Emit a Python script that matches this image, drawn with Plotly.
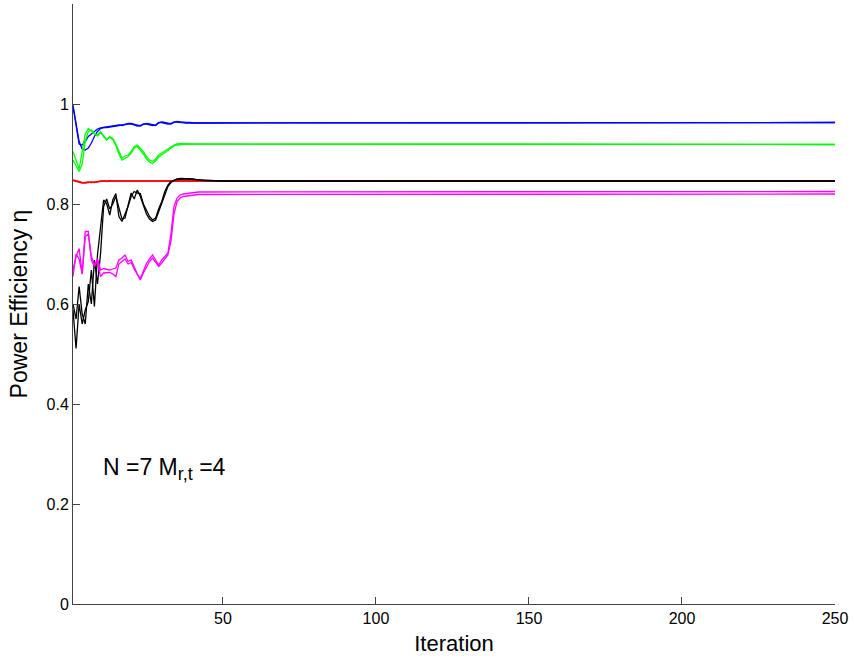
import plotly.graph_objects as go

iterations = list(range(1, 46)) + [50, 60, 80, 250]

blue_1 = [0.995, 0.955, 0.920, 0.918, 0.925, 0.935, 0.940, 0.946, 0.950, 0.952,
          0.953, 0.954, 0.955, 0.955, 0.957, 0.958, 0.957, 0.959, 0.961, 0.961,
          0.959, 0.957, 0.956, 0.959, 0.961, 0.960, 0.958, 0.957, 0.962, 0.964,
          0.963, 0.961, 0.960, 0.963, 0.965, 0.964, 0.963, 0.963, 0.963, 0.962,
          0.962, 0.962, 0.962, 0.962, 0.962, 0.962, 0.963, 0.963, 0.963]
blue_2 = [0.998, 0.960, 0.925, 0.910, 0.908, 0.912, 0.922, 0.935, 0.945, 0.951,
          0.953, 0.953, 0.954, 0.956, 0.957, 0.957, 0.958, 0.960, 0.960, 0.960,
          0.958, 0.956, 0.957, 0.960, 0.960, 0.959, 0.957, 0.958, 0.963, 0.963,
          0.962, 0.960, 0.961, 0.964, 0.964, 0.963, 0.963, 0.962, 0.962, 0.962,
          0.962, 0.962, 0.962, 0.962, 0.962, 0.962, 0.962, 0.963, 0.963]

green_1 = [0.905, 0.885, 0.870, 0.905, 0.940, 0.951, 0.946, 0.940, 0.938, 0.945,
           0.935, 0.928, 0.935, 0.931, 0.920, 0.905, 0.892, 0.896, 0.898, 0.905,
           0.915, 0.918, 0.912, 0.905, 0.895, 0.888, 0.885, 0.890, 0.898, 0.902,
           0.906, 0.911, 0.915, 0.918, 0.920, 0.921, 0.921, 0.920, 0.920, 0.920,
           0.920, 0.920, 0.920, 0.920, 0.920, 0.920, 0.919, 0.919, 0.919]
green_2 = [0.888, 0.875, 0.865, 0.880, 0.925, 0.945, 0.948, 0.942, 0.936, 0.943,
           0.936, 0.930, 0.933, 0.929, 0.917, 0.900, 0.888, 0.892, 0.895, 0.902,
           0.912, 0.915, 0.908, 0.900, 0.890, 0.884, 0.881, 0.886, 0.894, 0.898,
           0.902, 0.907, 0.912, 0.916, 0.918, 0.919, 0.920, 0.920, 0.920, 0.920,
           0.920, 0.920, 0.920, 0.920, 0.920, 0.920, 0.919, 0.919, 0.919]

red_1 = [0.848, 0.846, 0.844, 0.843, 0.842, 0.843, 0.844, 0.843, 0.845, 0.846,
         0.846, 0.845, 0.846, 0.846, 0.846, 0.846, 0.846, 0.846, 0.846, 0.846,
         0.846, 0.846, 0.846, 0.846, 0.846, 0.846, 0.846, 0.846, 0.846, 0.846,
         0.846, 0.846, 0.846, 0.846, 0.846, 0.846, 0.846, 0.846, 0.846, 0.846,
         0.846, 0.846, 0.846, 0.846, 0.846, 0.846, 0.846, 0.846, 0.846]
red_2 = [0.847, 0.845, 0.843, 0.842, 0.843, 0.844, 0.843, 0.844, 0.845, 0.845,
         0.846, 0.846, 0.846, 0.846, 0.846, 0.846, 0.846, 0.846, 0.846, 0.846,
         0.846, 0.846, 0.846, 0.846, 0.846, 0.846, 0.846, 0.846, 0.846, 0.846,
         0.846, 0.846, 0.846, 0.846, 0.846, 0.846, 0.846, 0.846, 0.846, 0.846,
         0.846, 0.846, 0.846, 0.846, 0.846, 0.846, 0.846, 0.846, 0.846]

black_1 = [0.588, 0.511, 0.600, 0.560, 0.588, 0.605, 0.668, 0.595, 0.698, 0.748,
           0.808, 0.801, 0.778, 0.808, 0.821, 0.775, 0.765, 0.780, 0.795, 0.815,
           0.825, 0.822, 0.821, 0.800, 0.788, 0.775, 0.768, 0.772, 0.790, 0.805,
           0.825, 0.838, 0.845, 0.848, 0.850, 0.851, 0.851, 0.851, 0.850, 0.850,
           0.849, 0.848, 0.848, 0.847, 0.847, 0.846, 0.846, 0.846, 0.846]
black_2 = [0.600, 0.570, 0.635, 0.580, 0.560, 0.640, 0.600, 0.688, 0.640, 0.700,
           0.795, 0.810, 0.790, 0.800, 0.815, 0.790, 0.770, 0.772, 0.800, 0.822,
           0.810, 0.828, 0.815, 0.795, 0.780, 0.770, 0.765, 0.768, 0.785, 0.800,
           0.820, 0.835, 0.843, 0.847, 0.849, 0.850, 0.850, 0.850, 0.850, 0.849,
           0.849, 0.848, 0.848, 0.847, 0.847, 0.846, 0.846, 0.846, 0.846]

magenta_1 = [0.668, 0.695, 0.711, 0.661, 0.745, 0.745, 0.688, 0.675, 0.691, 0.668,
             0.671, 0.670, 0.668, 0.670, 0.672, 0.688, 0.692, 0.698, 0.685, 0.688,
             0.675, 0.660, 0.651, 0.668, 0.681, 0.690, 0.698, 0.688, 0.678, 0.688,
             0.695, 0.702, 0.740, 0.795, 0.812, 0.818, 0.820, 0.821, 0.822, 0.823,
             0.824, 0.824, 0.824, 0.824, 0.824, 0.825, 0.825, 0.825, 0.825]
magenta_2 = [0.655, 0.700, 0.690, 0.660, 0.735, 0.740, 0.695, 0.680, 0.685, 0.655,
             0.662, 0.662, 0.663, 0.660, 0.655, 0.680, 0.685, 0.690, 0.680, 0.683,
             0.670, 0.658, 0.648, 0.662, 0.675, 0.685, 0.692, 0.683, 0.675, 0.682,
             0.690, 0.698, 0.725, 0.780, 0.805, 0.812, 0.815, 0.816, 0.817, 0.818,
             0.819, 0.819, 0.819, 0.819, 0.819, 0.820, 0.820, 0.820, 0.820]

series = [
    (blue_1, "#0000ff"), (blue_2, "#0000ff"),
    (green_1, "#00ff00"), (green_2, "#00ff00"),
    (red_1, "#ff0000"), (red_2, "#ff0000"),
    (black_1, "#000000"), (black_2, "#000000"),
    (magenta_1, "#ff00ff"), (magenta_2, "#ff00ff"),
]

x_ticks = [50, 100, 150, 200, 250]
y_ticks = [0, 0.2, 0.4, 0.6, 0.8, 1]
y_tick_labels = ["0", "0.2", "0.4", "0.6", "0.8", "1"]

FONT = "Liberation Sans, Arial, Helvetica, sans-serif"

fig = go.Figure()
for vals, col in series:
    fig.add_trace(go.Scatter(x=iterations, y=vals, mode="lines",
                             line=dict(color=col, width=1.3), showlegend=False,
                             hoverinfo="skip"))

fig.add_annotation(x=0.037, y=0.27, xref="paper", yref="y",
                   text="N =7 M<sub><span style='font-size:18px'>r,t</span></sub> =4",
                   showarrow=False, xanchor="left", yanchor="middle",
                   font=dict(family=FONT, size=23, color="black"))

fig.update_layout(
    width=854, height=663,
    margin=dict(l=73, r=19, t=4, b=59),
    plot_bgcolor="white", paper_bgcolor="white",
    font=dict(family=FONT, color="black"),
    xaxis=dict(range=[1, 250], tickvals=x_ticks, showgrid=False, zeroline=False,
               showline=True, linecolor="#444", linewidth=1,
               ticks="inside", ticklen=7, tickcolor="#444",
               tickfont=dict(size=16, family=FONT),
               title=dict(text="Iteration", font=dict(size=22, family=FONT), standoff=9)),
    yaxis=dict(range=[0, 1.2], tickvals=y_ticks, ticktext=y_tick_labels,
               showgrid=False, zeroline=False,
               showline=True, linecolor="#444", linewidth=1,
               ticks="inside", ticklen=7, tickcolor="#444",
               tickfont=dict(size=16, family=FONT),
               title=dict(text="Power Efficiency η", font=dict(size=23, family=FONT), standoff=12)),
)

fig.write_html("out.html")
